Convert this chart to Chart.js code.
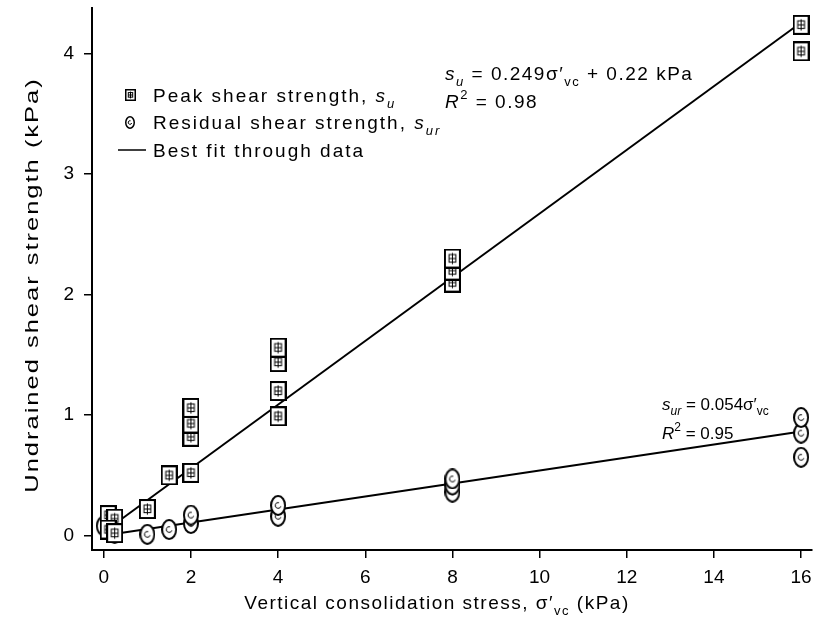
<!DOCTYPE html>
<html>
<head>
    <title>Undrained shear strength vs consolidation stress</title>
    <script src="https://cdnjs.cloudflare.com/ajax/libs/Chart.js/4.4.1/chart.umd.min.js"></script>
    <style>
        body { margin: 0; background: #fff; }
        canvas { display: block; }
    </style>
</head>
<body>
    <canvas id="strengthChart" width="817" height="637"></canvas>

    <script>
        // Peak shear strength, s_u (kPa)
        var peakX = [0.1, 0.25, 0.1, 0.25, 1, 1.5, 2, 2, 2, 2, 4, 4, 4, 4, 8, 8, 8, 16, 16];
        var peakY = [0.17, 0.14, 0.05, 0.02, 0.22, 0.5, 0.52, 0.82, 0.93, 1.06, 0.99, 1.2, 1.44, 1.56, 2.1, 2.2, 2.3, 4.24, 4.02];

        // Residual shear strength, s_ur (kPa)
        var residualX = [0, 0.25, 1, 1.5, 2, 2, 4, 4, 8, 8, 8, 16, 16, 16];
        var residualY = [0.08, 0.02, 0.01, 0.05, 0.1, 0.17, 0.16, 0.25, 0.36, 0.42, 0.47, 0.65, 0.85, 0.98];

        // Best fit lines (end points)
        var peakFitX = [0, 16];
        var peakFitY = [0.03, 4.26];
        var residualFitX = [0, 16];
        var residualFitY = [0, 0.864];

        // Tick labels
        var xTicks = [0, 2, 4, 6, 8, 10, 12, 14, 16];
        var yTicks = [0, 1, 2, 3, 4];

        var FONT = '"Liberation Sans", Arial, sans-serif';

        function toPoints(xs, ys) {
            return xs.map(function (x, i) { return { x: x, y: ys[i] }; });
        }

        // Hatched square marker like the scanned symbol
        function makeSquare(w, h, lw) {
            var c = document.createElement('canvas');
            c.width = w; c.height = h;
            var g = c.getContext('2d');
            g.fillStyle = '#fff';
            g.strokeStyle = '#000';
            g.lineWidth = lw;
            g.beginPath();
            g.rect(lw / 2, lw / 2, w - lw, h - lw);
            g.fill();
            g.stroke();
            g.lineWidth = 1;
            g.strokeRect(w * 0.3, h * 0.3, w * 0.4, h * 0.38);
            g.beginPath();
            g.moveTo(w * 0.3, h * 0.5); g.lineTo(w * 0.7, h * 0.5);
            g.moveTo(w * 0.5, h * 0.22); g.lineTo(w * 0.5, h * 0.78);
            g.stroke();
            return c;
        }

        // Open ellipse marker
        function makeEllipse(w, h, lw) {
            var c = document.createElement('canvas');
            c.width = w; c.height = h;
            var g = c.getContext('2d');
            g.fillStyle = '#fff';
            g.strokeStyle = '#000';
            g.lineWidth = lw;
            g.beginPath();
            g.ellipse(w / 2, h / 2, w / 2 - lw / 2, h / 2 - lw / 2, 0, 0, Math.PI * 2);
            g.fill();
            g.stroke();
            g.lineWidth = 1;
            g.beginPath();
            g.arc(w / 2, h / 2, w * 0.18, 0.3, Math.PI * 1.6);
            g.stroke();
            return c;
        }

        var squareMark = makeSquare(17, 20, 2);
        var ellipseMark = makeEllipse(16, 21, 2);
        var squareSmall = makeSquare(11, 12, 1.5);
        var ellipseSmall = makeEllipse(10, 13, 1.5);

        // Draw text made of runs (italic, subscript, superscript)
        function drawRich(ctx, x, y, parts, size) {
            var cx = x;
            parts.forEach(function (p) {
                var fs = (p.sub || p.sup) ? Math.round(size * 0.68) : size;
                ctx.font = (p.it ? 'italic ' : '') + fs + 'px ' + FONT;
                var dy = p.sub ? size * 0.32 : (p.sup ? -size * 0.45 : 0);
                ctx.fillText(p.t, cx, y + dy);
                cx += ctx.measureText(p.t).width;
            });
            return cx - x;
        }

        function richWidth(ctx, parts, size) {
            var w = 0;
            parts.forEach(function (p) {
                var fs = (p.sub || p.sup) ? Math.round(size * 0.68) : size;
                ctx.font = (p.it ? 'italic ' : '') + fs + 'px ' + FONT;
                w += ctx.measureText(p.t).width;
            });
            return w;
        }

        var annotations = {
            id: 'annotations',
            afterDraw: function (chart) {
                var ctx = chart.ctx;
                ctx.save();
                ctx.fillStyle = '#000';
                ctx.strokeStyle = '#000';
                ctx.textBaseline = 'alphabetic';

                // Legend
                ctx.letterSpacing = '2px';
                ctx.drawImage(squareSmall, 125, 89);
                ctx.drawImage(ellipseSmall, 125, 116);
                ctx.lineWidth = 1.5;
                ctx.beginPath();
                ctx.moveTo(118, 150);
                ctx.lineTo(146, 150);
                ctx.stroke();
                drawRich(ctx, 153, 102, [{ t: 'Peak shear strength, ' }, { t: 's', it: true }, { t: 'u', it: true, sub: true }], 19);
                drawRich(ctx, 153, 129, [{ t: 'Residual shear strength, ' }, { t: 's', it: true }, { t: 'ur', it: true, sub: true }], 19);
                drawRich(ctx, 153, 157, [{ t: 'Best fit through data' }], 19);

                // Fit equations
                ctx.letterSpacing = '1.5px';
                drawRich(ctx, 445, 80, [{ t: 's', it: true }, { t: 'u', it: true, sub: true }, { t: ' = 0.249σ′' }, { t: 'vc', sub: true }, { t: ' + 0.22 kPa' }], 19);
                drawRich(ctx, 445, 108, [{ t: 'R', it: true }, { t: '2', sup: true }, { t: ' = 0.98' }], 19);
                ctx.letterSpacing = '0px';
                drawRich(ctx, 662, 410, [{ t: 's', it: true }, { t: 'ur', it: true, sub: true }, { t: ' = 0.054σ′' }, { t: 'vc', sub: true }], 17);
                drawRich(ctx, 662, 439, [{ t: 'R', it: true }, { t: '2', sup: true }, { t: ' = 0.95' }], 17);

                // X axis title
                ctx.letterSpacing = '1.5px';
                var xTitle = [{ t: 'Vertical consolidation stress, σ′' }, { t: 'vc', sub: true }, { t: ' (kPa)' }];
                var xw = richWidth(ctx, xTitle, 19);
                drawRich(ctx, 437 - xw / 2, 609, xTitle, 19);

                // Y axis title, stretched along its length
                ctx.translate(38, 285);
                ctx.rotate(-Math.PI / 2);
                ctx.font = '19px ' + FONT;
                ctx.textAlign = 'center';
                ctx.scale(1.34, 1);
                ctx.fillText('Undrained shear strength (kPa)', 0, 0);
                ctx.restore();
            }
        };

        var ctx = document.getElementById('strengthChart').getContext('2d');
        var chart = new Chart(ctx, {
            type: 'scatter',
            data: {
                datasets: [{
                    label: 'Peak shear strength',
                    data: toPoints(peakX, peakY),
                    pointStyle: squareMark,
                    order: 1
                }, {
                    label: 'Residual shear strength',
                    data: toPoints(residualX, residualY),
                    pointStyle: ellipseMark,
                    order: 1
                }, {
                    type: 'line',
                    label: 'Peak fit',
                    data: toPoints(peakFitX, peakFitY),
                    borderColor: '#000',
                    borderWidth: 2,
                    pointRadius: 0,
                    fill: false,
                    order: 2
                }, {
                    type: 'line',
                    label: 'Residual fit',
                    data: toPoints(residualFitX, residualFitY),
                    borderColor: '#000',
                    borderWidth: 2,
                    pointRadius: 0,
                    fill: false,
                    order: 2
                }]
            },
            options: {
                responsive: false,
                animation: false,
                clip: false,
                layout: { padding: { top: 8, right: 3, left: 0, bottom: 0 } },
                plugins: {
                    legend: { display: false },
                    tooltip: { enabled: false }
                },
                scales: {
                    x: {
                        type: 'linear',
                        min: -0.27,
                        max: 16.25,
                        afterFit: function (scale) {
                            scale.height = 87;
                            scale.paddingLeft = 0;
                            scale.paddingRight = 0;
                        },
                        afterBuildTicks: function (scale) {
                            scale.ticks = xTicks.map(function (v) { return { value: v }; });
                        },
                        ticks: {
                            color: '#000',
                            padding: 8,
                            maxRotation: 0,
                            font: { family: FONT, size: 19 }
                        },
                        grid: {
                            drawOnChartArea: false,
                            color: '#000',
                            lineWidth: 1.5,
                            tickLength: 8
                        },
                        border: { color: '#000', width: 2 }
                    },
                    y: {
                        type: 'linear',
                        min: -0.12,
                        max: 4.38,
                        afterFit: function (scale) {
                            scale.width = 92;
                            scale.paddingTop = 0;
                            scale.paddingBottom = 0;
                        },
                        afterBuildTicks: function (scale) {
                            scale.ticks = yTicks.map(function (v) { return { value: v }; });
                        },
                        ticks: {
                            color: '#000',
                            padding: 10,
                            font: { family: FONT, size: 19 }
                        },
                        grid: {
                            drawOnChartArea: false,
                            color: '#000',
                            lineWidth: 1.5,
                            tickLength: 8
                        },
                        border: { color: '#000', width: 2 }
                    }
                }
            },
            plugins: [annotations]
        });
    </script>
</body>
</html>
